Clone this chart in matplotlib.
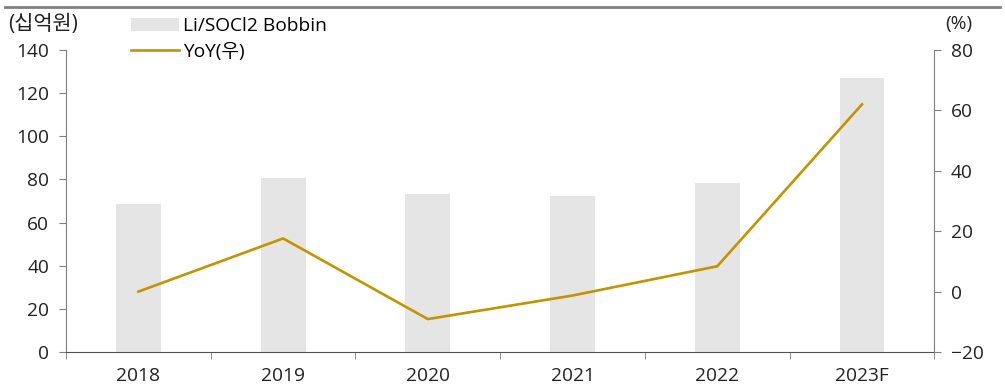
import matplotlib
matplotlib.use("Agg")
import matplotlib.pyplot as plt
import numpy as np

plt.rcParams['font.family'] = ['Open Sans', 'Noto Sans CJK KR', 'DejaVu Sans']
plt.rcParams['font.size'] = 13.8

years = ['2018', '2019', '2020', '2021', '2022', '2023F']
sales = [68.6, 80.7, 73.2, 72.3, 78.3, 127.0]   # 십억원
yoy = [0.0, 17.6, -9.1, -1.3, 8.4, 62.0]        # %

bar_color = '#e5e5e5'
line_color = '#c49400'
axis_color = '#808080'

fig = plt.figure(figsize=(10.05, 3.89), dpi=100)
ax = fig.add_axes([0.0657, 0.0951, 0.864, 0.7764])
ax2 = ax.twinx()

x = np.arange(len(years))
bars = ax.bar(x, sales, width=0.31, color=bar_color, zorder=1)
line, = ax2.plot(x, yoy, color=line_color, lw=1.9, zorder=3)

ax.set_xlim(-0.5, len(years) - 0.5)
ax.set_ylim(0, 140)
ax.set_yticks(np.arange(0, 141, 20))
ax2.set_ylim(-20, 80)
ax2.set_yticks(np.arange(-20, 81, 20))

ax.set_xticks(x)
ax.set_xticklabels(years)
ax.set_xticks(np.arange(-0.5, len(years), 1), minor=True)
ax.tick_params(axis='x', which='major', length=0, pad=11, colors='#222222')
ax.tick_params(axis='x', which='minor', length=5, color=axis_color)
ax.tick_params(axis='y', length=5, color=axis_color, labelcolor='#222222', pad=7)
ax2.tick_params(axis='y', length=5, color=axis_color, labelcolor='#222222', pad=7)

for a in (ax, ax2):
    a.spines['top'].set_visible(False)
ax2.spines['left'].set_visible(False)
ax2.spines['bottom'].set_visible(False)
ax.spines['right'].set_visible(False)
ax.spines['left'].set_color(axis_color)
ax2.spines['right'].set_color(axis_color)
ax.spines['bottom'].set_color('#505050')
ax.set_zorder(ax2.get_zorder() - 1)
ax2.patch.set_visible(False)

# unit labels and top rule
fig.text(0.008, 0.938, '(십억원)', ha='left', va='center', color='#222222', fontsize=15)
fig.text(0.968, 0.938, '(%)', ha='right', va='center', color='#222222')
fig.add_artist(plt.Line2D([0.005, 0.995], [0.982, 0.982], color=axis_color, lw=2,
                          transform=fig.transFigure))

fig.legend([bars, line], ['Li/SOCl2 Bobbin', 'YoY(우)'], loc='upper left',
           bbox_to_anchor=(0.117, 0.99), frameon=False, handlelength=2.5,
           handleheight=0.7, handletextpad=0.2, labelspacing=0.4, borderpad=0.2)

fig.savefig('out.png', dpi=100)
